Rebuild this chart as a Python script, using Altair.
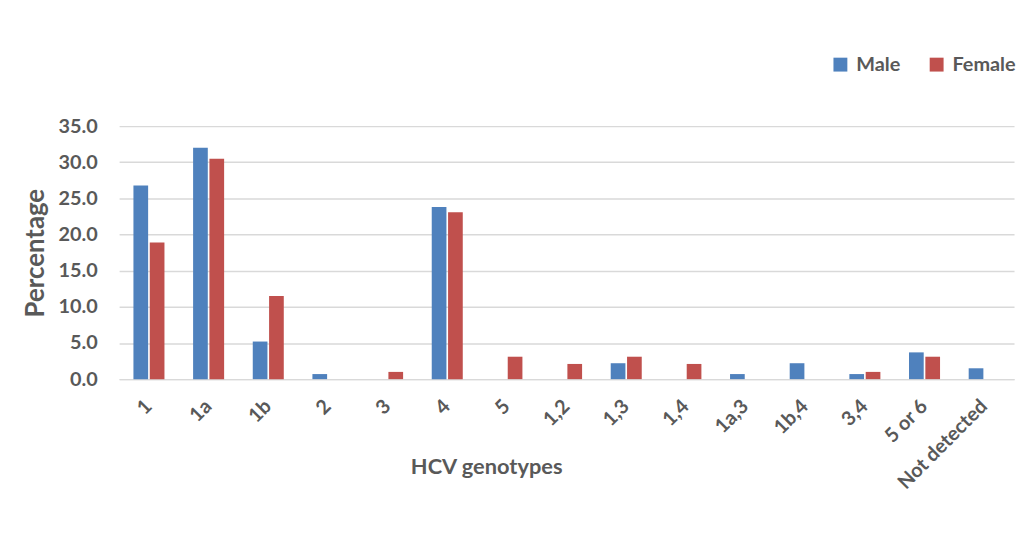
import altair as alt
import pandas as pd

categories = ["1", "1a", "1b", "2", "3", "4", "5", "1,2", "1,3", "1,4", "1a,3", "1b,4", "3,4", "5 or 6", "Not detected"]
male = [26.8, 32.0, 5.2, 0.7, 0.0, 23.8, 0.0, 0.0, 2.2, 0.0, 0.7, 2.2, 0.7, 3.7, 1.5]
female = [18.9, 30.5, 11.5, 0.0, 1.0, 23.1, 3.1, 2.1, 3.1, 2.1, 0.0, 0.0, 1.0, 3.1, 0.0]
series = ["Male", "Female"]
colors = ["#4F81BD", "#C0504D"]
y_ticks = [0, 5, 10, 15, 20, 25, 30, 35]

rows = []
for i, c in enumerate(categories):
    rows.append({"genotype": c, "sex": "Male", "value": male[i]})
    rows.append({"genotype": c, "sex": "Female", "value": female[i]})
df = pd.DataFrame(rows)

FONT = "Lato"
GREY = "#595959"

chart = alt.Chart(df).mark_bar().encode(
    x=alt.X("genotype:N", sort=categories,
            scale=alt.Scale(paddingInner=0.48, paddingOuter=0.24),
            axis=alt.Axis(title="HCV genotypes", labelAngle=-45, labelAlign="right",
                          labelBaseline="middle", labelPadding=24, ticks=False,
                          domainColor="#D9D9D9", domainWidth=1.5,
                          labelFont=FONT, labelFontSize=20, labelFontWeight="bold",
                          labelColor=GREY, titleFont=FONT, titleFontSize=22,
                          titleFontWeight="bold", titleColor=GREY,
                          titleX=370, titleY=88, titleAlign="center",
                          titleBaseline="middle", titleAnchor="start")),
    xOffset=alt.XOffset("sex:N", sort=series, scale=alt.Scale(paddingInner=0.1)),
    y=alt.Y("value:Q", scale=alt.Scale(domain=[0, 35], nice=False),
            axis=alt.Axis(title="Percentage", values=y_ticks, format=".1f",
                          ticks=False, domain=False, gridColor="#D9D9D9",
                          gridWidth=1.5, labelPadding=22,
                          labelFont=FONT, labelFontSize=20, labelFontWeight="bold",
                          labelColor=GREY, titleFont=FONT, titleFontSize=26,
                          titleFontWeight="bold", titleColor=GREY, titlePadding=10)),
    color=alt.Color("sex:N", sort=series,
                    scale=alt.Scale(domain=series, range=colors),
                    legend=alt.Legend(title=None, orient="none", direction="horizontal",
                                      legendX=717, legendY=-72, padding=0,
                                      symbolType="square",
                                      symbolSize=196, symbolStrokeWidth=0,
                                      labelFont=FONT, labelFontSize=20,
                                      labelFontWeight="bold", labelColor=GREY,
                                      columnPadding=26, labelOffset=6)),
).properties(
    width=902, height=255,
    autosize=alt.AutoSizeParams(type="none"),
    padding={"left": 112, "top": 117, "right": 3, "bottom": 150},
).configure_view(stroke=None)

chart.save("out.html", embed_options={"renderer": "svg", "actions": False})
